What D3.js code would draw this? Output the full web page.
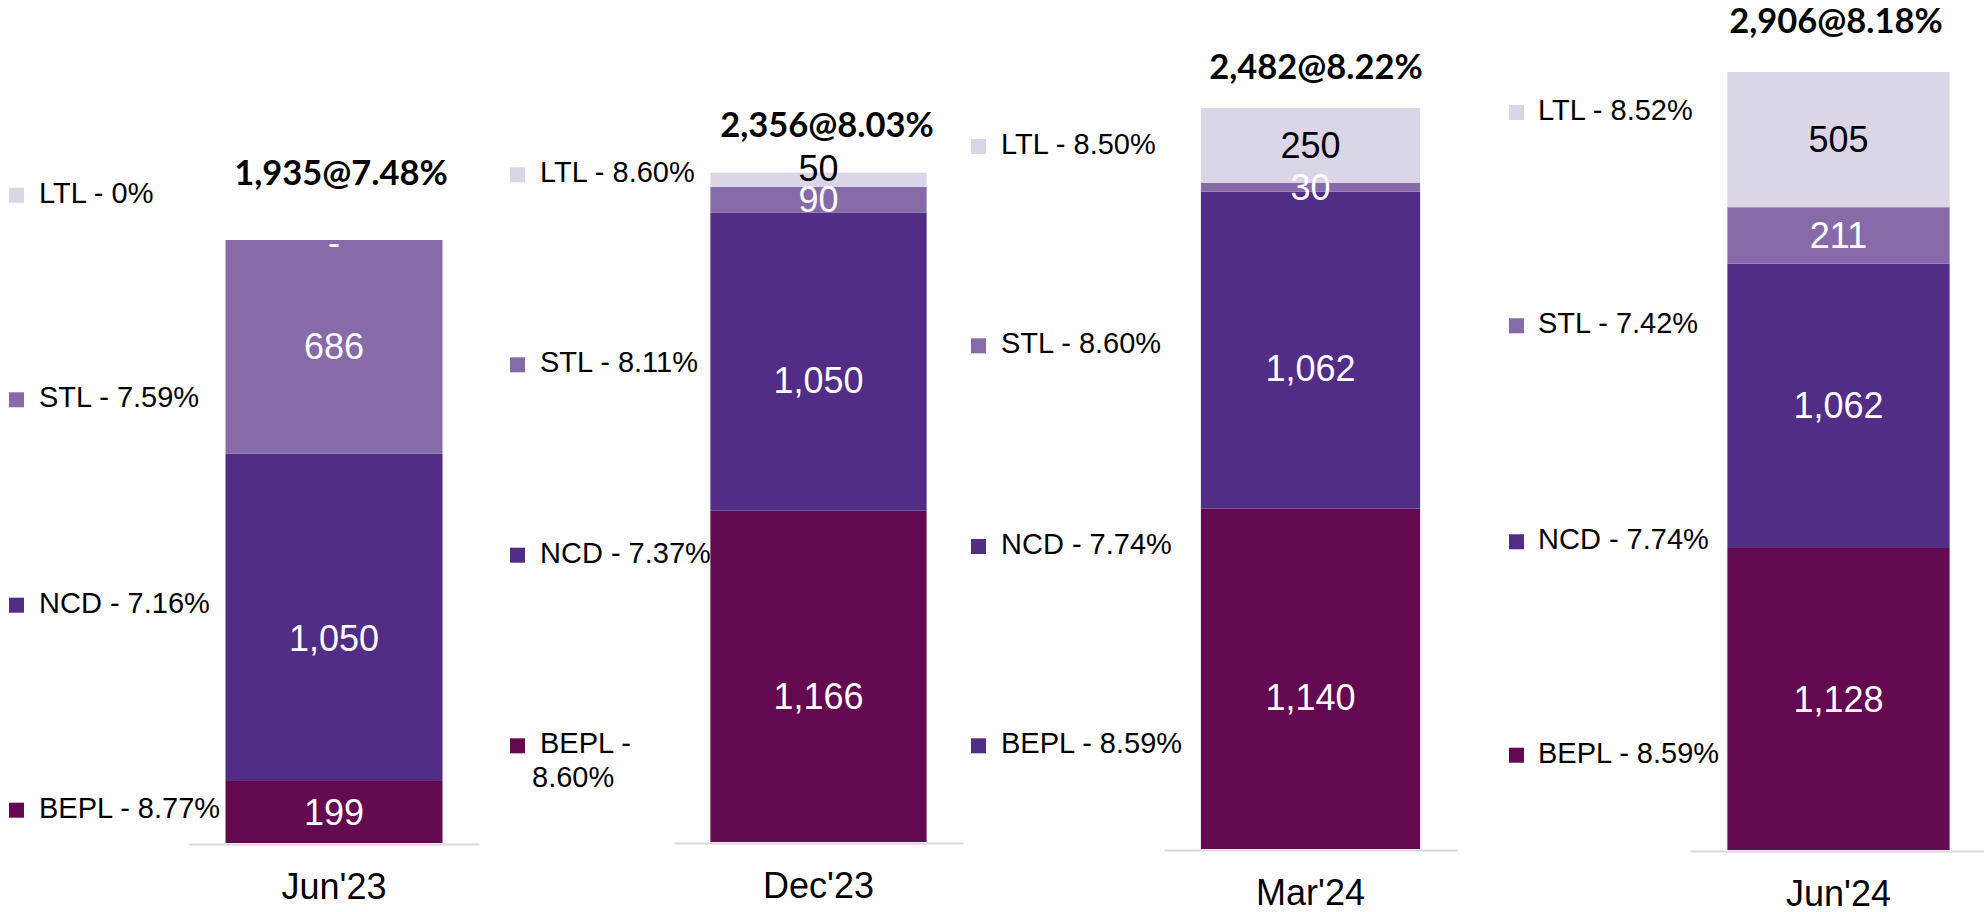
<!DOCTYPE html>
<html>
<head>
<meta charset="utf-8">
<script src="https://cdn.jsdelivr.net/npm/d3@7"></script>
<style>
  html, body { margin: 0; padding: 0; background: #fff; }
  svg { display: block; }
</style>
</head>
<body>
<svg id="chart" width="1984" height="912"></svg>
<script>
// ---- data ----
const categories = ["Jun'23", "Dec'23", "Mar'24", "Jun'24"];
const seriesKeys = ["BEPL", "NCD", "STL", "LTL"];
const bepl = [199, 1166, 1140, 1128];
const ncd  = [1050, 1050, 1062, 1062];
const stl  = [686, 90, 30, 211];
const ltl  = [0, 50, 250, 505];
const beplRate = ["8.77%", "8.60%", "8.59%", "8.59%"];
const ncdRate  = ["7.16%", "7.37%", "7.74%", "7.74%"];
const stlRate  = ["7.59%", "8.11%", "8.60%", "7.42%"];
const ltlRate  = ["0%", "8.60%", "8.50%", "8.52%"];
const totalRate = ["7.48%", "8.03%", "8.22%", "8.18%"];

// ---- styles ----
const colors = { BEPL: "#640a50", NCD: "#522d85", STL: "#876ba9", LTL: "#dcd5e8" };
const labelColors = { BEPL: "#ffffff", NCD: "#ffffff", STL: "#ffffff", LTL: "#000000" };
const sansFont = "'Liberation Sans', Arial, sans-serif";
const boldFont = "Lato, 'Open Sans', sans-serif";

// ---- layout per panel ----
const layout = [
  { ax0: 189, ax1: 479, top: 240, base: 843, totalX: 341, totalY: 185,
    mx: 9, tx: 39, legY: [817.7, 612.7, 407.3, 202.7], labelDy: [0, 21, 0, 2] },
  { ax0: 674, ax1: 963, top: 172.7, base: 842, totalX: 827, totalY: 136.7,
    mx: 510, tx: 540, legY: [753.3, 562.7, 372.3, 182.3], labelDy: [20, 19, 0, -11],
    wrap: { index: 0, x: 532, dy: 33.4 } },
  { ax0: 1164, ax1: 1457, top: 108, base: 849, totalX: 1316, totalY: 79.3,
    mx: 971, tx: 1001, legY: [753.3, 554, 353.3, 154], labelDy: [19, 18, 0, 0],
    markerOverride: { BEPL: "NCD" } },
  { ax0: 1690, ax1: 1987, top: 72, base: 850, totalX: 1836, totalY: 33.3,
    mx: 1509, tx: 1538, legY: [762.7, 549.3, 333.3, 120], labelDy: [0, 0, 0, 0] }
];

const rows = categories.map((c, i) => ({
  cat: c, BEPL: bepl[i], NCD: ncd[i], STL: stl[i], LTL: ltl[i]
}));
const rates = { BEPL: beplRate, NCD: ncdRate, STL: stlRate, LTL: ltlRate };

const stacked = d3.stack().keys(seriesKeys)(rows);
const fmt = d3.format(",");

const svg = d3.select("#chart");

categories.forEach((cat, i) => {
  const L = layout[i];
  const row = rows[i];
  const total = d3.sum(seriesKeys, k => row[k]);

  const x = d3.scaleBand().domain([cat]).range([L.ax0, L.ax1])
    .paddingInner(0.144).paddingOuter(0.144);
  const y = d3.scaleLinear().domain([0, total]).range([L.base, L.top]);

  const g = svg.append("g");

  // bars
  seriesKeys.forEach((k, si) => {
    const seg = stacked[si][i];
    g.append("rect")
      .attr("x", x(cat))
      .attr("width", x.bandwidth())
      .attr("y", y(seg[1]))
      .attr("height", y(seg[0]) - y(seg[1]))
      .attr("fill", colors[k]);
  });

  // segment labels
  seriesKeys.forEach((k, si) => {
    const seg = stacked[si][i];
    const v = row[k];
    g.append("text")
      .attr("x", x(cat) + x.bandwidth() / 2)
      .attr("y", (y(seg[0]) + y(seg[1])) / 2 + L.labelDy[si])
      .attr("dy", "0.35em")
      .attr("text-anchor", "middle")
      .attr("font-family", sansFont)
      .attr("font-size", 36)
      .attr("fill", v === 0 ? "#ffffff" : labelColors[k])
      .text(v === 0 ? "-" : fmt(v));
  });

  // axis
  const axis = g.append("g")
    .attr("transform", `translate(0,${L.base + 1})`)
    .call(d3.axisBottom(x).tickSize(0).tickPadding(29));
  axis.select(".domain").attr("stroke", "#d9d9d9").attr("stroke-width", 2);
  axis.selectAll("text")
    .attr("font-family", sansFont)
    .attr("font-size", 36)
    .attr("fill", "#000");

  // total label
  g.append("text")
    .attr("x", L.totalX)
    .attr("y", L.totalY)
    .attr("text-anchor", "middle")
    .attr("font-family", boldFont)
    .attr("font-weight", 700)
    .attr("font-size", 34.5)
    .attr("fill", "#000")
    .text(fmt(total) + "@" + totalRate[i]);

  // legend
  seriesKeys.forEach((k, si) => {
    const by = L.legY[si];
    const mk = (L.markerOverride && L.markerOverride[k]) || k;
    g.append("rect")
      .attr("x", L.mx).attr("y", by - 15)
      .attr("width", 15).attr("height", 15)
      .attr("fill", colors[mk]);
    const t = g.append("text")
      .attr("x", L.tx).attr("y", by)
      .attr("font-family", sansFont)
      .attr("font-size", 29)
      .attr("fill", "#000");
    const label = k + " - " + rates[k][i];
    if (L.wrap && L.wrap.index === si) {
      t.append("tspan").attr("x", L.tx).text(k + " -");
      t.append("tspan").attr("x", L.wrap.x).attr("dy", L.wrap.dy).text(rates[k][i]);
    } else {
      t.text(label);
    }
  });
});
</script>
</body>
</html>
